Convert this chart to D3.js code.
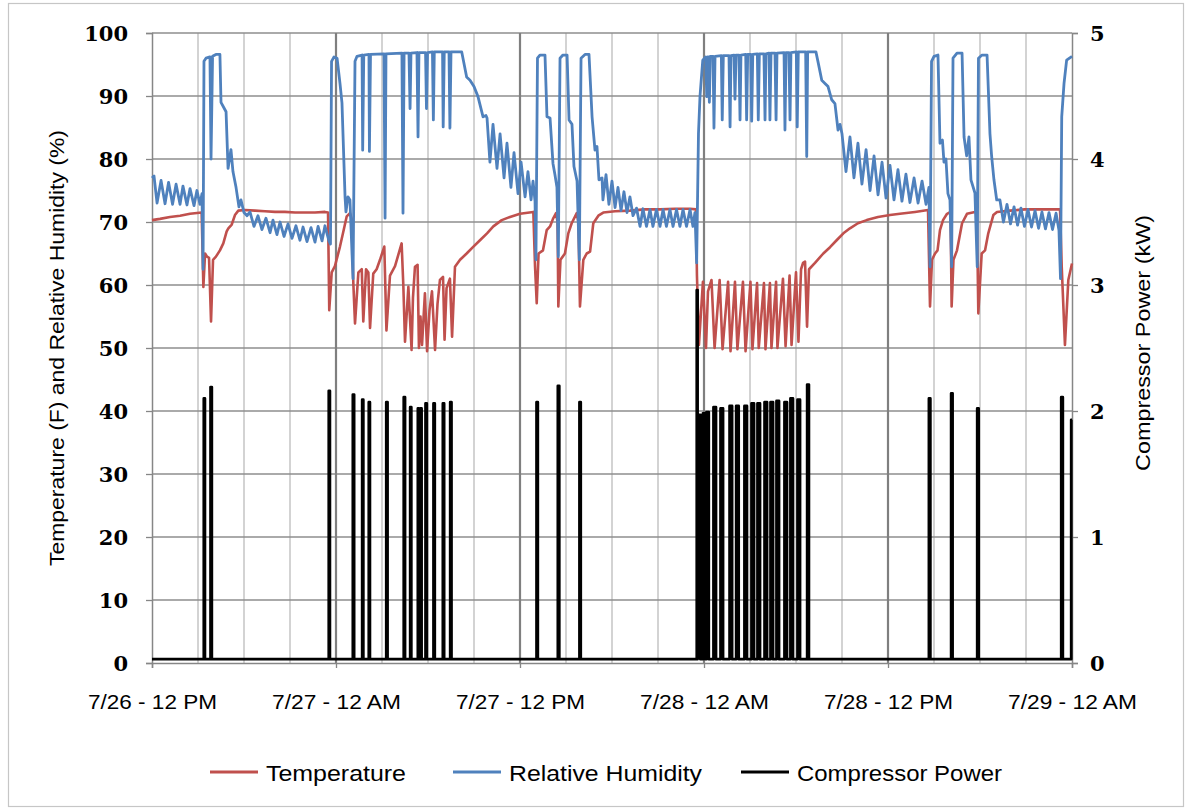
<!DOCTYPE html>
<html>
<head>
<meta charset="utf-8">
<script src="https://cdn.jsdelivr.net/npm/d3@7/dist/d3.min.js"></script>
<style>
body { margin: 0; background: #fff; }
</style>
</head>
<body>
<script>
// time is hours since 7/26 12 PM
var temperature = [
  [0,70.3],[0.52,70.5],[1.17,70.8],[1.83,71.0],[2.48,71.3],[3.24,71.5],[3.35,59.7],[3.46,65.0],
  [3.59,64.5],[3.72,64.3],[3.85,54.2],[3.98,64.0],[4.17,64.5],[4.43,65.5],[4.65,66.6],[4.87,68.5],
  [4.98,69.0],[5.20,69.6],[5.41,71.1],[5.63,71.8],[6.07,71.9],[6.72,71.8],[7.37,71.7],[8.02,71.6],
  [8.67,71.6],[9.33,71.5],[9.98,71.5],[10.63,71.5],[11.28,71.6],[11.48,71.5],[11.56,56.0],[11.72,62.0],
  [11.93,63.0],[12.26,66.1],[12.48,68.5],[12.70,70.9],[12.91,71.4],[13.02,70.5],[13.13,60.3],[13.24,53.9],
  [13.46,62.0],[13.68,62.5],[13.78,54.2],[13.96,62.5],[14.11,62.0],[14.22,53.2],[14.43,61.8],[14.65,62.5],
  [14.87,64.0],[15.15,66.1],[15.29,52.8],[15.52,61.5],[15.85,63.0],[16.28,66.6],[16.39,60.0],[16.50,51.0],
  [16.72,59.7],[16.93,49.7],[17.02,58.0],[17.15,62.9],[17.32,63.2],[17.41,50.0],[17.51,55.0],[17.61,50.5],
  [17.80,58.7],[17.94,49.5],[18.10,56.0],[18.26,59.0],[18.46,49.7],[18.62,57.0],[18.78,60.8],[18.98,61.3],
  [19.08,51.3],[19.21,59.5],[19.43,61.0],[19.57,51.8],[19.76,62.9],[20.09,64.0],[20.52,65.0],[20.93,66.0],
  [21.39,67.1],[21.85,68.2],[22.26,69.3],[22.81,70.3],[23.35,70.8],[24.00,71.3],[24.87,71.6],[24.98,63.0],
  [25.09,57.1],[25.21,65.0],[25.50,65.5],[25.74,68.7],[25.96,69.3],[26.15,70.5],[26.35,71.4],[26.45,70.0],
  [26.50,56.6],[26.64,64.0],[26.93,65.0],[27.15,68.2],[27.37,69.8],[27.70,71.4],[27.81,70.0],[27.91,56.6],
  [28.13,64.0],[28.35,65.0],[28.57,65.3],[28.78,69.8],[29.11,71.0],[29.43,71.5],[30.20,71.7],[31.17,71.8],
  [32.15,72.0],[33.13,72.0],[34.11,72.1],[35.09,72.1],[35.48,72.0],[35.54,61.5],[35.67,50.5],[35.93,60.5],
  [36.13,50.0],[36.26,59.0],[36.49,60.8],[36.69,50.0],[37.02,60.8],[37.21,49.8],[37.57,60.5],[37.73,49.5],
  [38.02,60.5],[38.18,49.8],[38.54,60.5],[38.71,49.5],[39.03,60.5],[39.16,49.8],[39.46,60.3],[39.57,50.0],
  [39.91,60.3],[40.01,49.8],[40.30,60.3],[40.40,50.0],[40.70,60.5],[40.79,50.0],[41.15,61.0],[41.32,50.3],
  [41.58,61.5],[41.71,50.5],[42.00,62.0],[42.16,51.0],[42.33,62.5],[42.46,63.5],[42.59,63.7],[42.72,53.4],
  [42.85,62.5],[43.24,63.5],[43.78,65.0],[44.22,66.0],[44.65,67.1],[45.09,68.2],[45.52,69.0],[46.04,69.8],
  [46.61,70.3],[47.35,70.8],[48.13,71.1],[48.78,71.3],[49.76,71.6],[50.61,71.9],[50.74,56.6],[50.87,64.0],
  [51.07,65.0],[51.23,65.5],[51.39,68.7],[51.59,70.3],[51.85,71.3],[52.08,71.6],[52.15,56.6],[52.27,64.0],
  [52.50,65.5],[52.83,69.8],[53.15,71.3],[53.67,71.6],[53.80,71.5],[53.89,55.5],[54.11,65.0],[54.33,65.5],
  [54.54,68.2],[54.87,71.1],[55.11,71.6],[55.96,71.8],[56.93,72.0],[57.91,72.0],[58.89,72.0],[59.22,72.0],
  [59.33,62.9],[59.54,50.5],[59.76,60.8],[60.00,63.4]
];

var humidity = [
  [0,77.0],[0.13,77.3],[0.33,73.0],[0.59,76.6],[0.85,72.9],[1.08,76.3],[1.34,72.8],[1.57,76.0],
  [1.83,72.8],[2.02,75.7],[2.28,72.7],[2.48,75.3],[2.74,72.6],[2.93,75.0],[3.13,72.8],[3.26,74.5],
  [3.33,62.5],[3.39,95.5],[3.52,96.0],[3.78,96.2],[3.85,80.0],[3.95,96.3],[4.17,96.6],[4.43,96.6],
  [4.50,89.0],[4.83,87.5],[4.96,78.5],[5.15,81.5],[5.28,78.0],[5.48,75.5],[5.67,72.4],[5.80,73.5],
  [6.00,71.5],[6.20,71.0],[6.39,71.6],[6.65,69.3],[6.91,71.0],[7.17,68.8],[7.43,70.6],[7.70,68.3],
  [7.89,70.3],[8.15,68.0],[8.35,70.0],[8.61,67.7],[8.87,69.7],[9.13,67.4],[9.39,69.4],[9.65,67.1],
  [9.85,69.2],[10.11,66.9],[10.37,69.1],[10.63,66.8],[10.83,69.3],[11.09,67.0],[11.28,69.4],[11.54,67.0],
  [11.64,66.5],[11.71,95.5],[11.87,96.2],[12.07,96.0],[12.26,92.0],[12.39,88.9],[12.59,74.0],[12.65,71.6],
  [12.78,74.0],[12.91,73.5],[13.11,61.0],[13.24,95.5],[13.37,96.3],[13.70,96.5],[13.74,81.4],[13.81,96.5],
  [14.15,96.6],[14.18,81.2],[14.25,96.6],[15.13,96.7],[15.20,70.6],[15.26,96.7],[16.30,96.8],[16.37,71.4],
  [16.44,96.8],[16.76,96.8],[16.83,88.0],[16.89,96.8],[17.28,96.9],[17.35,83.5],[17.41,96.9],[17.84,96.9],
  [17.90,88.0],[17.97,96.9],[18.29,97.0],[18.35,86.2],[18.41,97.0],[18.95,97.0],[18.99,85.1],[19.06,97.0],
  [19.37,97.0],[19.43,84.9],[19.50,97.0],[20.20,97.0],[20.52,93.0],[20.74,92.5],[21.00,91.5],[21.26,89.9],
  [21.59,86.7],[21.78,86.9],[21.85,86.5],[22.04,79.5],[22.24,85.5],[22.50,78.5],[22.70,84.0],[22.96,77.0],
  [23.15,82.5],[23.41,75.5],[23.61,81.0],[23.87,74.5],[24.07,79.5],[24.33,74.0],[24.52,78.0],[24.72,73.5],
  [24.85,76.5],[24.98,73.3],[25.04,64.0],[25.14,96.0],[25.30,96.5],[25.63,96.5],[25.76,86.7],[25.96,86.5],
  [26.15,79.3],[26.28,77.5],[26.41,75.5],[26.50,64.5],[26.61,96.0],[26.80,96.5],[27.07,96.5],[27.20,86.2],
  [27.39,85.5],[27.52,78.8],[27.72,76.5],[27.87,64.0],[27.98,96.0],[28.24,96.6],[28.50,96.6],[28.70,86.7],
  [28.89,81.4],[29.02,82.0],[29.15,76.7],[29.35,77.0],[29.41,73.5],[29.61,77.5],[29.80,72.8],[30.00,76.5],
  [30.20,72.3],[30.39,75.5],[30.59,71.8],[30.78,74.8],[30.98,71.5],[31.17,74.0],[31.37,71.0],[31.60,72.2],
  [31.83,69.3],[32.02,72.1],[32.25,69.3],[32.48,72.0],[32.67,69.3],[32.90,72.0],[33.13,69.3],[33.33,72.0],
  [33.55,69.3],[33.78,72.0],[33.98,69.3],[34.21,72.0],[34.43,69.3],[34.63,72.0],[34.86,69.3],[35.09,72.0],
  [35.28,69.3],[35.41,71.5],[35.52,63.5],[35.64,84.0],[35.74,90.0],[35.92,95.7],
  [36.11,96.2],[36.18,89.9],[36.24,96.2],[36.28,96.2],[36.35,89.0],[36.41,96.3],[36.59,96.3],[36.65,84.9],
  [36.72,96.3],[37.13,96.4],[37.19,86.2],[37.26,96.4],[37.63,96.4],[37.70,85.1],[37.76,96.4],[37.96,96.5],
  [38.02,89.5],[38.09,96.5],[38.28,96.5],[38.35,86.2],[38.41,96.5],[38.72,96.6],[38.78,86.2],[38.85,96.6],
  [39.05,96.6],[39.11,86.0],[39.18,96.6],[39.48,96.7],[39.54,86.2],[39.61,96.7],[39.91,96.7],[39.98,86.2],
  [40.04,96.7],[40.24,96.8],[40.30,86.2],[40.37,96.8],[40.63,96.8],[40.70,86.2],[40.76,96.8],[41.22,96.9],
  [41.28,84.6],[41.35,96.9],[41.54,96.9],[41.61,86.2],[41.67,96.9],[42.02,97.0],[42.08,85.1],[42.15,97.0],
  [42.63,97.0],[42.70,80.4],[42.76,97.0],[43.30,97.0],[43.43,95.5],[43.68,92.5],[43.89,92.0],[44.09,91.5],
  [44.33,89.4],[44.54,88.8],[44.74,84.6],[44.87,85.5],[45.00,84.0],[45.26,78.0],[45.52,83.5],[45.78,77.0],
  [46.04,82.5],[46.30,76.0],[46.57,81.5],[46.83,75.0],[47.09,80.5],[47.35,74.3],[47.61,79.5],[47.87,73.8],
  [48.13,79.0],[48.39,73.5],[48.65,78.3],[48.91,73.3],[49.17,77.6],[49.43,73.1],[49.70,77.0],[49.96,73.0],
  [50.22,76.5],[50.48,72.8],[50.67,75.5],[50.74,62.9],[50.84,95.5],[51.00,96.3],[51.26,96.5],[51.39,82.5],
  [51.55,83.0],[51.65,79.5],[51.78,80.0],[51.91,74.5],[52.04,73.5],[52.15,62.9],[52.24,96.0],[52.50,96.8],
  [52.83,96.8],[52.96,83.5],[53.13,80.5],[53.28,83.5],[53.41,76.7],[53.67,74.6],[53.82,62.9],[53.90,96.0],
  [54.13,96.5],[54.46,96.5],[54.65,84.0],[54.76,80.4],[54.91,76.7],[55.09,73.5],[55.30,73.5],[55.53,70.0],
  [55.76,72.8],[55.99,69.7],[56.22,72.4],[56.45,69.5],[56.67,72.2],[56.90,69.3],[57.13,72.0],[57.36,69.2],
  [57.59,71.8],[57.82,69.0],[58.04,71.6],[58.27,68.9],[58.50,71.5],[58.73,68.8],[58.96,71.4],[59.15,68.7],
  [59.25,61.0],[59.33,86.7],[59.48,92.0],[59.65,95.7],[60.00,96.3]
];

// compressor cycles: on time, off time (hours) and kW while running
var powerOn  = [3.38,3.82,11.53,13.10,13.71,14.14,15.28,16.42,16.84,17.34,17.51,17.84,18.36,18.97,19.45,
                25.08,26.47,27.88,35.53,35.58,35.93,36.16,36.62,37.08,37.67,38.10,38.64,39.10,39.49,39.95,
                40.34,40.73,41.25,41.64,42.10,42.73,50.67,52.12,53.82,59.30,59.95];
var powerOff = [3.45,3.90,11.60,13.18,13.78,14.21,15.36,16.50,16.91,17.41,17.58,17.92,18.44,19.05,19.53,
                25.16,26.56,27.96,35.58,35.76,36.08,36.31,36.78,37.24,37.83,38.26,38.80,39.26,39.65,40.11,
                40.50,40.89,41.41,41.80,42.26,42.84,50.76,52.21,53.91,59.40,60.00];
var powerKW  = [2.10,2.19,2.16,2.13,2.09,2.07,2.07,2.11,2.03,2.02,2.02,2.06,2.06,2.06,2.07,
                2.07,2.20,2.07,2.96,1.97,1.98,1.99,2.03,2.02,2.04,2.04,2.04,2.06,2.06,2.07,
                2.07,2.08,2.07,2.10,2.09,2.21,2.10,2.14,2.02,2.11,1.93];
var powerIdle = 0.03;

var leftTicks = [0,10,20,30,40,50,60,70,80,90,100];
var rightTicks = [0,1,2,3,4,5];
var xTicks = [0,12,24,36,48,60];
var xLabels = ["7/26 - 12 PM","7/27 - 12 AM","7/27 - 12 PM","7/28 - 12 AM","7/28 - 12 PM","7/29 - 12 AM"];
var minorHours = d3.range(3,60,3);
var seriesNames = ["Temperature","Relative Humidity","Compressor Power"];
var seriesColors = ["#c0504d","#4f81bd","#000000"];

var width = 1191, height = 811;
var narrow = "'Liberation Sans Narrow','Arial Narrow','Liberation Sans',Arial,sans-serif";
var serif = "'DejaVu Serif',Cambria,serif";

var svg = d3.select("body").append("svg")
    .attr("width", width)
    .attr("height", height);

svg.append("rect")
    .attr("x", 8.5).attr("y", 3.5)
    .attr("width", 1175).attr("height", 803)
    .attr("fill", "#fff")
    .attr("stroke", "#c6c6c6")
    .attr("stroke-width", 1.2);

var x = d3.scaleLinear().domain([0,60]).range([152,1072]);
var yL = d3.scaleLinear().domain([0,100]).range([663,33]);
var yR = d3.scaleLinear().domain([0,5]).range([663,33]);

// gridlines
var grid = svg.append("g");
grid.selectAll("line.minor")
    .data(minorHours.filter(function (h) { return h % 12 != 0; }))
    .enter().append("line")
    .attr("x1", function (d) { return x(d); })
    .attr("x2", function (d) { return x(d); })
    .attr("y1", yL(100)).attr("y2", yL(0))
    .attr("stroke", "#c4c4c4").attr("stroke-width", 1.5);
grid.selectAll("line.hz")
    .data(leftTicks.slice(1))
    .enter().append("line")
    .attr("x1", x(0)).attr("x2", x(60))
    .attr("y1", function (d) { return yL(d); })
    .attr("y2", function (d) { return yL(d); })
    .attr("stroke", "#8e8e8e").attr("stroke-width", 1.5);
grid.selectAll("line.major")
    .data([12,24,36,48])
    .enter().append("line")
    .attr("x1", function (d) { return x(d); })
    .attr("x2", function (d) { return x(d); })
    .attr("y1", yL(100)).attr("y2", yL(0))
    .attr("stroke", "#7f7f7f").attr("stroke-width", 2.2);

// axes
var axL = svg.append("g").attr("transform", "translate(152,0)")
    .call(d3.axisLeft(yL).tickValues(leftTicks).tickSize(6).tickPadding(18));
var axR = svg.append("g").attr("transform", "translate(1072,0)")
    .call(d3.axisRight(yR).tickValues(rightTicks).tickSize(6).tickPadding(12).tickFormat(d3.format("d")));
var axB = svg.append("g").attr("transform", "translate(0,663)")
    .call(d3.axisBottom(x).tickValues(xTicks).tickSize(5).tickFormat(function (d, i) { return xLabels[i]; }).tickPadding(26));

[axL, axR, axB].forEach(function (a) {
    a.select(".domain").attr("stroke", "#868686").attr("stroke-width", 1.5);
    a.selectAll(".tick line").attr("stroke", "#868686").attr("stroke-width", 1.3);
});
axL.selectAll("text").attr("font-family", serif).attr("font-weight", "bold")
    .attr("font-size", 21).attr("fill", "#000").attr("dy", "0.36em");
axR.selectAll("text").attr("font-family", serif).attr("font-weight", "bold")
    .attr("font-size", 21).attr("fill", "#000").attr("dy", "0.36em");
axB.selectAll("text").attr("font-family", narrow).attr("font-size", 21).attr("fill", "#000")
    .attr("textLength", 129).attr("lengthAdjust", "spacingAndGlyphs");

// axis titles
svg.append("text")
    .attr("transform", "translate(64,348) rotate(-90)")
    .attr("text-anchor", "middle")
    .attr("font-family", narrow).attr("font-size", 20)
    .attr("textLength", 436).attr("lengthAdjust", "spacingAndGlyphs")
    .text("Temperature (F) and Relative Humidity (%)");
svg.append("text")
    .attr("transform", "translate(1150,343) rotate(-90)")
    .attr("text-anchor", "middle")
    .attr("font-family", narrow).attr("font-size", 20)
    .attr("textLength", 256).attr("lengthAdjust", "spacingAndGlyphs")
    .text("Compressor Power (kW)");

// series
var lineL = d3.line()
    .x(function (d) { return x(d[0]); })
    .y(function (d) { return yL(d[1]); });

var power = [[0, powerIdle]];
powerOn.forEach(function (t, i) {
    power.push([t, powerIdle], [t, powerKW[i]], [powerOff[i], powerKW[i]]);
    if (i < powerOn.length - 1) power.push([powerOff[i], powerIdle]);
});
var lineR = d3.line()
    .x(function (d) { return x(d[0]); })
    .y(function (d) { return yR(d[1]); });

svg.append("path").datum(temperature)
    .attr("d", lineL).attr("fill", "none")
    .attr("stroke", seriesColors[0]).attr("stroke-width", 2.6)
    .attr("stroke-linejoin", "round");
svg.append("path").datum(humidity)
    .attr("d", lineL).attr("fill", "none")
    .attr("stroke", seriesColors[1]).attr("stroke-width", 2.8)
    .attr("stroke-linejoin", "round");
svg.append("path").datum(power)
    .attr("d", lineR).attr("fill", "none")
    .attr("stroke", seriesColors[2]).attr("stroke-width", 2.8)
    .attr("stroke-linejoin", "round");

// legend
var legendX = [210, 453, 741];
var legendW = [140, 193, 205];
var lg = svg.append("g").selectAll("g")
    .data(seriesNames)
    .enter().append("g")
    .attr("transform", function (d, i) { return "translate(" + legendX[i] + ",772)"; });
lg.append("line")
    .attr("x1", 0).attr("x2", 48)
    .attr("stroke", function (d, i) { return seriesColors[i]; })
    .attr("stroke-width", 3);
lg.append("text")
    .attr("x", 56).attr("y", 9)
    .attr("font-family", narrow).attr("font-size", 22)
    .attr("textLength", function (d, i) { return legendW[i]; })
    .attr("lengthAdjust", "spacingAndGlyphs")
    .text(function (d) { return d; });
</script>
</body>
</html>
